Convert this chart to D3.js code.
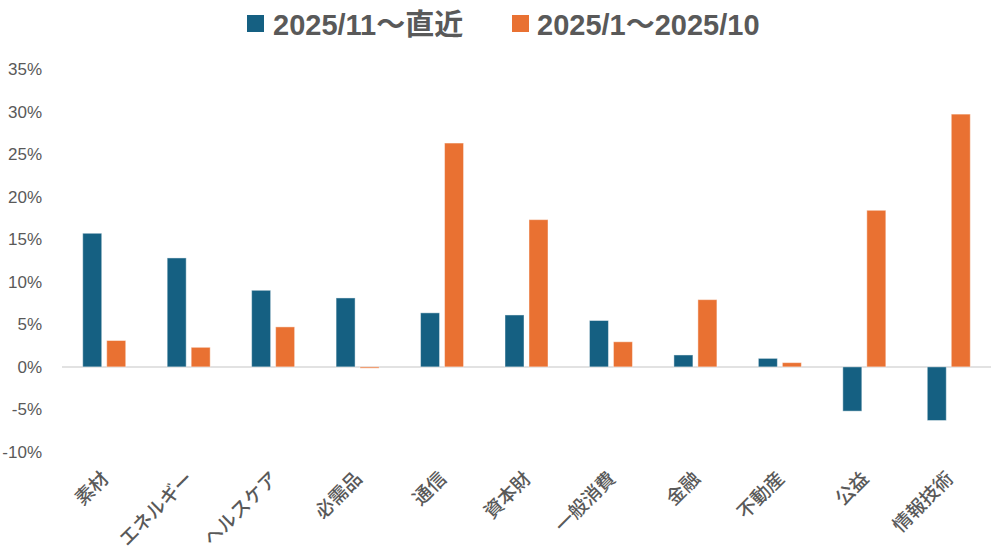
<!DOCTYPE html>
<html><head><meta charset="utf-8">
<script src="https://cdn.jsdelivr.net/npm/d3@7"></script>
<style>body{margin:0;background:#fff}svg{display:block}</style>
</head><body><svg id="c" width="1000" height="560"></svg>
<script>
const categories = ["素材","エネルギー","ヘルスケア","必需品","通信","資本財","一般消費","金融","不動産","公益","情報技術"];
const recent = [15.7, 12.8, 9.0, 8.1, 6.35, 6.1, 5.45, 1.4, 1.0, -5.2, -6.3];
const earlier = [3.1, 2.3, 4.7, -0.15, 26.3, 17.3, 2.95, 7.9, 0.5, 18.4, 29.7];
const seriesNames = ["2025/11～直近", "2025/1～2025/10"];
const colors = ["#156082", "#E97132"];
const yTicks = [35, 30, 25, 20, 15, 10, 5, 0, -5, -10];

(function () {
const svg = d3.select("#c");
const pLeft = 62, pRight = 991, pTop = 69, pBottom = 452;
const x = d3.scaleBand().domain(categories).range([pLeft, pRight]).paddingInner(0).paddingOuter(0);
const y = d3.scaleLinear().domain([-10, 35]).range([pBottom, pTop]);
const bw = 19, gap = 5;

const yAxis = d3.axisLeft(y).tickValues(yTicks).tickFormat(d => d + "%").tickSize(0).tickPadding(0);
const ga = svg.append("g").attr("transform", `translate(42,0)`).call(yAxis);
ga.select(".domain").remove();
ga.selectAll("text").attr("font-family", "'Liberation Sans', Arial, sans-serif").attr("font-size", 17).attr("fill", "#595959");

svg.append("line").attr("x1", pLeft).attr("x2", pRight).attr("y1", y(0)).attr("y2", y(0))
  .attr("stroke", "#d9d9d9").attr("stroke-width", 1.5);

const data = [recent, earlier];
data.forEach((vals, si) => {
  svg.append("g").selectAll("rect").data(vals).join("rect")
    .attr("x", (d, i) => x(categories[i]) + x.bandwidth() / 2 + (si === 0 ? -gap / 2 - bw : gap / 2))
    .attr("width", bw)
    .attr("y", d => y(Math.max(0, d)))
    .attr("height", d => Math.abs(y(d) - y(0)))
    .attr("fill", colors[si])
    .attr("stroke", "rgba(255,255,255,0.45)").attr("stroke-width", 1);
});

const xAxis = d3.axisBottom(x).tickSize(0).tickPadding(0);
const gx = svg.append("g").attr("transform", `translate(0,470)`).call(xAxis);
gx.select(".domain").remove();
gx.selectAll("text")
  .attr("font-family", "'Noto Sans CJK JP', sans-serif").attr("font-size", 19).attr("font-weight", 500).attr("fill", "#595959")
  .attr("text-anchor", "end").attr("dy", "0.35em")
  .attr("transform", "translate(1,5) rotate(-45)");

const leg = [{x: 247, tx: 273}, {x: 512, tx: 537}];
leg.forEach((l, i) => {
  svg.append("rect").attr("x", l.x).attr("y", 15).attr("width", 17).attr("height", 17).attr("fill", colors[i]);
  svg.append("text").attr("x", l.tx).attr("y", 35).text(seriesNames[i])
    .attr("font-family", "'Liberation Sans', Arial, 'Noto Sans CJK JP', sans-serif")
    .attr("font-weight", "bold").attr("font-size", 29).attr("fill", "#595959");
});
})();
</script></body></html>
